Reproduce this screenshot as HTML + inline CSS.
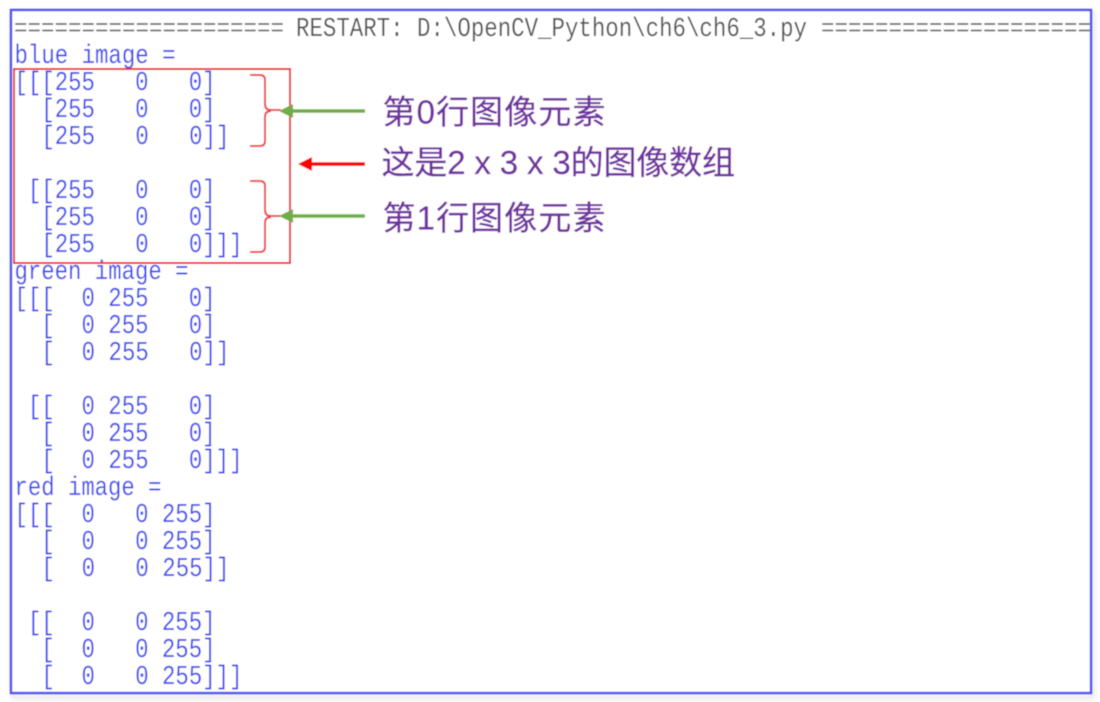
<!DOCTYPE html>
<html><head><meta charset="utf-8">
<style>
html,body{margin:0;padding:0;background:#fff;width:1100px;height:702px;overflow:hidden}
svg{display:block;position:absolute;left:0;top:0}
.m{font-family:"Liberation Mono",monospace;font-size:27px;fill:#3f4bf0;white-space:pre}
.h{fill:#555}.e{fill:#7a7a7a}
.c{font-family:"Liberation Sans","Noto Sans CJK SC",sans-serif;font-size:33px;fill:#7030a0;stroke:#7030a0;stroke-width:.3}
</style></head><body>
<svg width="1100" height="702" viewBox="0 0 1100 702">
<defs>
<filter id="b" x="-5%" y="-5%" width="110%" height="110%"><feGaussianBlur stdDeviation="0.55"/></filter>
<filter id="s" x="-5%" y="-5%" width="110%" height="110%"><feGaussianBlur stdDeviation="3"/></filter>
<clipPath id="cl"><rect x="11" y="10" width="1080" height="683"/></clipPath>
</defs>
<rect x="13" y="13" width="1080" height="684" fill="none" stroke="#ccc" stroke-width="2" filter="url(#s)"/>
<g filter="url(#b)">
<rect x="11" y="10" width="1080" height="683" fill="#fff" stroke="#5050f0" stroke-width="2.4"/>
<g clip-path="url(#cl)">
<g transform="translate(-1.5,-1.2)">
<text class="m e" x="15.5" y="37" textLength="270" lengthAdjust="spacingAndGlyphs">====================</text>
<text class="m h" x="297.5" y="37" textLength="511" lengthAdjust="spacingAndGlyphs">RESTART: D:\OpenCV_Python\ch6\ch6_3.py</text>
<text class="m e" x="822.5" y="37" textLength="270" lengthAdjust="spacingAndGlyphs">====================</text>
<text class="m" x="16" y="64" textLength="161" lengthAdjust="spacingAndGlyphs">blue image =</text>
<text class="m" x="16" y="91" textLength="201" lengthAdjust="spacingAndGlyphs">[[[255   0   0]</text>
<text class="m" x="16" y="118" textLength="201" lengthAdjust="spacingAndGlyphs">  [255   0   0]</text>
<text class="m" x="16" y="145" textLength="215" lengthAdjust="spacingAndGlyphs">  [255   0   0]]</text>
<text class="m" x="16" y="199" textLength="201" lengthAdjust="spacingAndGlyphs"> [[255   0   0]</text>
<text class="m" x="16" y="226" textLength="201" lengthAdjust="spacingAndGlyphs">  [255   0   0]</text>
<text class="m" x="16" y="253" textLength="228" lengthAdjust="spacingAndGlyphs">  [255   0   0]]]</text>
<text class="m" x="16" y="280" textLength="174" lengthAdjust="spacingAndGlyphs">green image =</text>
<text class="m" x="16" y="307" textLength="201" lengthAdjust="spacingAndGlyphs">[[[  0 255   0]</text>
<text class="m" x="16" y="334" textLength="201" lengthAdjust="spacingAndGlyphs">  [  0 255   0]</text>
<text class="m" x="16" y="361" textLength="215" lengthAdjust="spacingAndGlyphs">  [  0 255   0]]</text>
<text class="m" x="16" y="415" textLength="201" lengthAdjust="spacingAndGlyphs"> [[  0 255   0]</text>
<text class="m" x="16" y="442" textLength="201" lengthAdjust="spacingAndGlyphs">  [  0 255   0]</text>
<text class="m" x="16" y="469" textLength="228" lengthAdjust="spacingAndGlyphs">  [  0 255   0]]]</text>
<text class="m" x="16" y="496" textLength="147" lengthAdjust="spacingAndGlyphs">red image =</text>
<text class="m" x="16" y="523" textLength="201" lengthAdjust="spacingAndGlyphs">[[[  0   0 255]</text>
<text class="m" x="16" y="550" textLength="201" lengthAdjust="spacingAndGlyphs">  [  0   0 255]</text>
<text class="m" x="16" y="577" textLength="215" lengthAdjust="spacingAndGlyphs">  [  0   0 255]]</text>
<text class="m" x="16" y="631" textLength="201" lengthAdjust="spacingAndGlyphs"> [[  0   0 255]</text>
<text class="m" x="16" y="658" textLength="201" lengthAdjust="spacingAndGlyphs">  [  0   0 255]</text>
<text class="m" x="16" y="685" textLength="228" lengthAdjust="spacingAndGlyphs">  [  0   0 255]]]</text>
</g>
</g>
<rect x="14" y="69" width="276" height="194" fill="none" stroke="#f01820" stroke-width="2"/>
<path d="M250 75 H260 Q265 75 265 80 V104 Q265 110 271 110 H281 M271 111 Q265 111 265 117 V141 Q265 146 260 146 H250" fill="none" stroke="#f43c44" stroke-width="2"/>
<path d="M250 181 H260 Q265 181 265 186 V210 Q265 216 271 216 H281 M271 217 Q265 217 265 223 V247 Q265 252 260 252 H250" fill="none" stroke="#f43c44" stroke-width="2"/>
<path d="M365 111 H290" stroke="#70ad47" stroke-width="3.4" fill="none"/>
<path d="M279 111 L293 104 V118 Z" fill="#70ad47"/>
<path d="M365 216 H290" stroke="#70ad47" stroke-width="3.4" fill="none"/>
<path d="M279 216 L293 209 V223 Z" fill="#70ad47"/>
<path d="M365 164 H308" stroke="#f00" stroke-width="3.4" fill="none"/>
<path d="M298 164 L312 157 V171 Z" fill="#f00"/>
<text class="c" x="382.5" y="123.5" textLength="223">第0行图像元素</text>
<text class="c" x="381.5" y="174" textLength="353.5">这是2 x 3 x 3的图像数组</text>
<text class="c" x="382.5" y="229.5" textLength="223">第1行图像元素</text>
</g>
</svg>
</body></html>
